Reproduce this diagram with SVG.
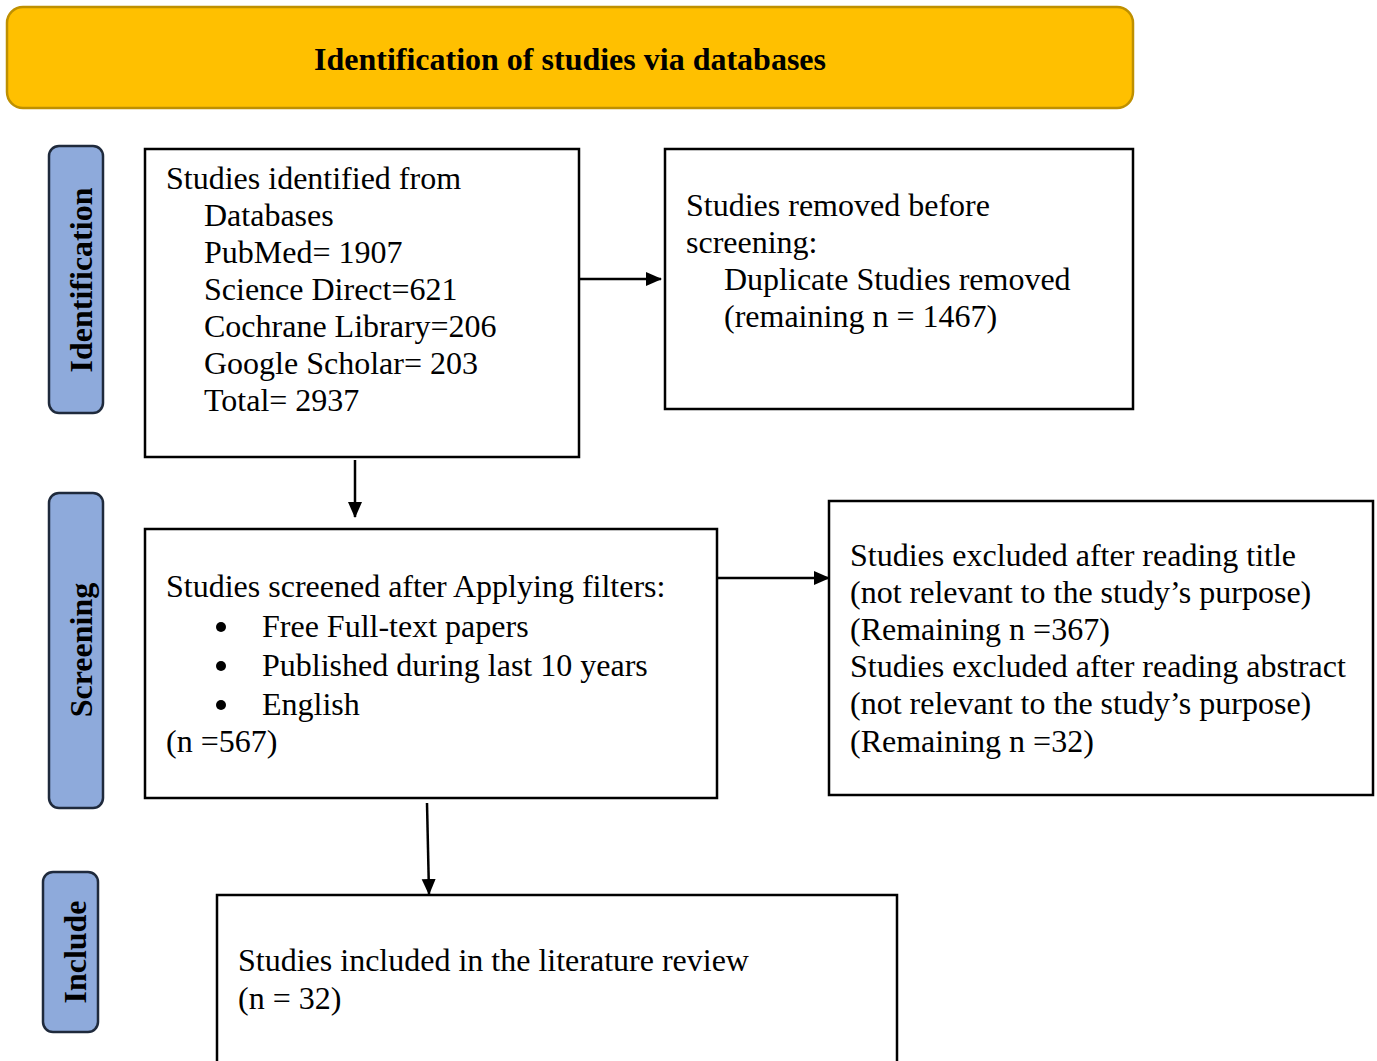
<svg xmlns="http://www.w3.org/2000/svg" width="1377" height="1061" viewBox="0 0 1377 1061">
<style>
.box{fill:#fff;stroke:#000;stroke-width:2.5}
.side{fill:#8EAADB;stroke:#1F2A3C;stroke-width:2.5}
.t{font-family:"Liberation Serif","Times New Roman",serif;font-size:32px;fill:#000}
.b{font-family:"Liberation Serif","Times New Roman",serif;font-size:32px;font-weight:bold;fill:#000}
.c{stroke:#000;stroke-width:2.5;fill:none}
</style>
<defs>
<marker id="ah" markerWidth="16" markerHeight="16" refX="15" refY="8" orient="auto" markerUnits="userSpaceOnUse" viewBox="0 0 16 16">
<path d="M0,1 L16,8 L0,15 z" fill="#000"/>
</marker>
</defs>
<g id="header">
<rect x="7" y="7" width="1126" height="101" rx="16" fill="#FFC000" stroke="#BF9000" stroke-width="2.5"/>
<text class="b" x="570" y="70" text-anchor="middle">Identification of studies via databases</text>
</g>
<g id="label-identification">
<rect class="side" x="49" y="146" width="54" height="267" rx="10"/>
<text class="b" transform="translate(92,280) rotate(-90)" text-anchor="middle">Identification</text>
</g>
<g id="label-screening">
<rect class="side" x="49" y="493" width="54" height="315" rx="10"/>
<text class="b" transform="translate(92,650) rotate(-90)" text-anchor="middle">Screening</text>
</g>
<g id="label-include">
<rect class="side" x="43" y="872" width="55" height="160" rx="10"/>
<text class="b" transform="translate(86,952) rotate(-90)" text-anchor="middle">Include</text>
</g>
<g id="identified">
<rect class="box" x="145" y="149" width="434" height="308"/>
<text class="t" x="166" y="189">Studies identified from</text>
<text class="t" x="204" y="226">Databases</text>
<text class="t" x="204" y="263">PubMed= 1907</text>
<text class="t" x="204" y="300">Science Direct=621</text>
<text class="t" x="204" y="337">Cochrane Library=206</text>
<text class="t" x="204" y="374">Google Scholar= 203</text>
<text class="t" x="204" y="411">Total= 2937</text>
</g>
<g id="removed">
<rect class="box" x="665" y="149" width="468" height="260"/>
<text class="t" x="686" y="216">Studies removed before</text>
<text class="t" x="686" y="253">screening:</text>
<text class="t" x="724" y="290">Duplicate Studies removed</text>
<text class="t" x="724" y="327">(remaining n = 1467)</text>
</g>
<g id="screened">
<rect class="box" x="145" y="529" width="572" height="269"/>
<text class="t" x="166" y="597">Studies screened after Applying filters:</text>
<circle cx="221" cy="627" r="5"/>
<text class="t" x="262" y="637">Free Full-text papers</text>
<circle cx="221" cy="666" r="5"/>
<text class="t" x="262" y="676">Published during last 10 years</text>
<circle cx="221" cy="705" r="5"/>
<text class="t" x="262" y="715">English</text>
<text class="t" x="166" y="752">(n =567)</text>
</g>
<g id="excluded">
<rect class="box" x="829" y="501" width="544" height="294"/>
<text class="t" x="850" y="566">Studies excluded after reading title</text>
<text class="t" x="850" y="603">(not relevant to the study’s purpose)</text>
<text class="t" x="850" y="640">(Remaining n =367)</text>
<text class="t" x="850" y="677">Studies excluded after reading abstract</text>
<text class="t" x="850" y="714">(not relevant to the study’s purpose)</text>
<text class="t" x="850" y="752">(Remaining n =32)</text>
</g>
<g id="included">
<rect class="box" x="217" y="895" width="680" height="180"/>
<text class="t" x="238" y="971">Studies included in the literature review</text>
<text class="t" x="238" y="1009">(n = 32)</text>
</g>
<g id="connectors">
<line class="c" x1="580" y1="279" x2="661" y2="279" marker-end="url(#ah)"/>
<line class="c" x1="355" y1="460" x2="355" y2="517" marker-end="url(#ah)"/>
<line class="c" x1="718" y1="578" x2="829" y2="578" marker-end="url(#ah)"/>
<line class="c" x1="427" y1="803" x2="429" y2="894" marker-end="url(#ah)"/>
</g>
</svg>
